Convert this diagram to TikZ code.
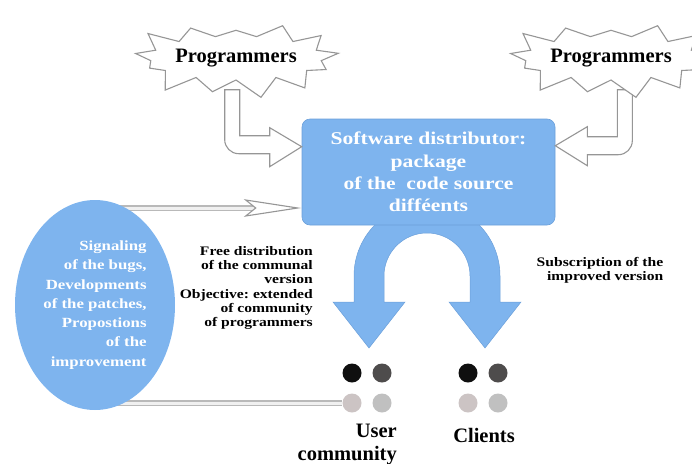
\documentclass[tikz,border=0pt]{standalone}
\usepackage{fontspec}
\setmainfont{Liberation Serif}
\newfontfamily\widefont[FakeStretch=1.2]{Liberation Serif}
\usetikzlibrary{shapes.symbols,shapes.geometric,calc}
\frenchspacing

\definecolor{softblue}{RGB}{126,180,238}
\definecolor{edgeblue}{RGB}{108,160,218}
\definecolor{rimgray}{RGB}{150,150,150}
\definecolor{dotA}{RGB}{15,15,15}
\definecolor{dotB}{RGB}{78,76,76}
\definecolor{dotC}{RGB}{204,196,196}
\definecolor{dotD}{RGB}{192,192,192}

\tikzset{
  burst/.style={starburst, starburst points=13, starburst point height=22pt,
    random starburst=23, draw=rimgray, line width=1.1pt, fill=white,
    minimum width=188pt, minimum height=88pt, inner sep=0pt,
    font=\bfseries\fontsize{20.5}{22}\selectfont},
  hollow/.style={draw=rimgray, line width=1.1pt, fill=white},
  greyline/.style={draw=gray!55, line width=1.4pt, double=gray!12, double distance=3pt},
  distbox/.style={rectangle, rounded corners=8pt, fill=softblue, draw=edgeblue,
    line width=.6pt, minimum width=253pt, minimum height=106pt, text=white,
    align=center, font=\widefont\bfseries\fontsize{18}{22.3}\selectfont},
  bubble/.style={ellipse, fill=softblue, minimum width=160pt, minimum height=210pt,
    inner sep=0pt, text=white, align=right, font=\widefont\bfseries\fontsize{14}{19.3}\selectfont},
  dot/.style={circle, minimum size=19pt, inner sep=0pt},
  note/.style={inner sep=0pt, font=\widefont\bfseries\fontsize{13}{14.3}\selectfont},
  label/.style={inner sep=0pt, font=\bfseries\fontsize{20.5}{23}\selectfont}
}

\begin{document}
\begin{tikzpicture}[x=1pt, y=-1pt]
\useasboundingbox (0,0) rectangle (692,463);

% split arrow under the distributor
\fill[softblue, draw=edgeblue, line width=.5pt] (369,348) -- (333,302) -- (354,302) -- (354,276)
  arc[start angle=180, end angle=360, radius=73] -- (500,302) -- (521,302) -- (485,348)
  -- (449,302) -- (470,302) -- (470,276) arc[start angle=0, end angle=-180, radius=43]
  -- (384,302) -- (405,302) -- cycle;

\node[distbox] (dist) at (428.5,172) {Software distributor:\\package\\of the~ code source\\difféents};

% programmers feed the distributor
\coordinate (tipL) at ($(dist.north west)+(0,28)$);
\coordinate (tipR) at ($(dist.north east)+(0,27)$);
\draw[hollow] (tipL) -- ++(-32,-19) -- ++(0,8) -- ++(-30,0) -- ++(0,-46) -- ++(-15,0) -- ++(0,50)
  arc[start angle=180, end angle=90, radius=14] -- ++(31,0) -- ++(0,13) -- cycle;
\draw[hollow] (tipR) -- ++(32,-19) -- ++(0,10) -- ++(30,0) -- ++(0,-47) -- ++(15,0) -- ++(0,51)
  arc[start angle=0, end angle=90, radius=14] -- ++(-31,0) -- ++(0,11) -- cycle;

\node[burst] (progL) at (236,58) {Programmers};
\node[burst] (progR) at (611,58) {Programmers};

% users and clients
\foreach \x/\g in {352/u,468/c}{
  \node[dot, fill=dotA] (\g11) at (\x,373) {};
  \node[dot, fill=dotB] (\g12) at (\x+30,373) {};
  \node[dot, fill=dotC] (\g21) at (\x,403) {};
  \node[dot, fill=dotD] (\g22) at (\x+30,403) {};
}

% feedback loop
\coordinate (fbtop) at (113,208);
\coordinate (fbbot) at (113,403);
\coordinate (fbtip) at ($(dist.west |- fbtop)+(-4,0)$);
\draw[greyline] (fbtop) -- ([xshift=-42pt]fbtip);
\draw[hollow] (fbtip) -- ++(-52,-8) -- ++(10,8) -- ++(-10,8) -- cycle;
\draw[greyline] (fbbot) -- (u21.west);

\node[bubble] (feedback) at (95,305)
  {Signaling\\of the bugs,\\Developments\\of the patches,\\Propostions\\of the\\improvement};

\node[note, anchor=east, align=right] (free) at (313,288)
  {Free distribution\\of the communal\\version\\Objective: extended\\of community\\of programmers};
\node[note, align=right] (subs) at (600,270) {Subscription of the\\improved version};

\node[label, anchor=east, align=right] (users) at (397,444) {User\\community};
\node[label] (clients) at (484,435) {Clients};
\end{tikzpicture}
\end{document}
